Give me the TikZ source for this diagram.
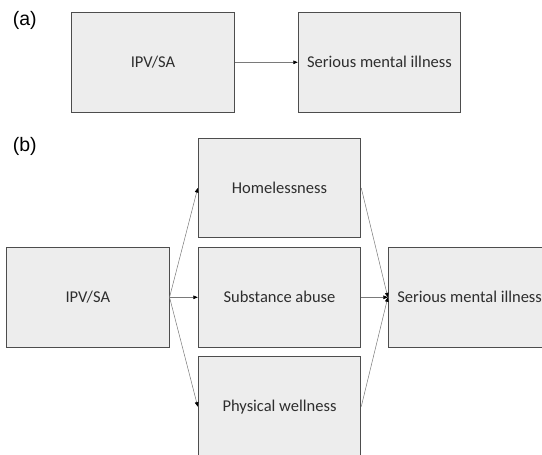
\documentclass[tikz,border=0pt]{standalone}
\usepackage{fontspec}
\setmainfont{Carlito}
\newfontfamily\panelfont{Liberation Sans}
\usepackage{tikz}
\usetikzlibrary{arrows.meta}
\definecolor{boxfill}{HTML}{EDEDED}
\definecolor{boxline}{HTML}{4D4D4D}
\definecolor{boxtext}{HTML}{2E2E2E}
\definecolor{linkgray}{HTML}{7A7A7A}
\begin{document}
\begin{tikzpicture}[x=1pt,y=-1pt,
  box/.style={draw=boxline, fill=boxfill, line width=0.9pt, text=boxtext,
    minimum width=162.6pt, minimum height=99.4pt, inner sep=0pt,
    font=\fontsize{16.5}{19}\selectfont},
  link/.style={draw=linkgray, line width=0.5pt,
    -{Triangle[length=4.5pt,width=3.6pt,color=black]}},
  panel/.style={font=\panelfont\fontsize{19.5}{22}\selectfont, text=black}]
\useasboundingbox (0,0) rectangle (542,455);

% (a) direct path
\node[panel] (labelA) at (24.7,20) {(a)};
\node[box] (ipvA) at (153,62.3) {IPV/SA};
\node[box] (smiA) at (379.5,62.3) {Serious mental illness};
\draw[link] (ipvA.east) -- (smiA.west);

% (b) through the three mediators
\node[panel] (labelB) at (24.7,146) {(b)};
\node[box] (ipvB) at (87.8,297.3) {IPV/SA};
\node[box] (home) at (279.5,188) {Homelessness};
\node[box] (subst) at (279.5,297.3) {Substance abuse};
\node[box] (phys) at (279.5,406.6) {Physical wellness};
\node[box] (smiB) at (469.6,297.3) {Serious mental illness};

\draw[link] (ipvB.east) -- (home.west);
\draw[link] (ipvB.east) -- (subst.west);
\draw[link] (ipvB.east) -- (phys.west);
\draw[link] (home.east) -- (smiB.west);
\draw[link] (subst.east) -- (smiB.west);
\draw[link] (phys.east) -- (smiB.west);
\end{tikzpicture}
\end{document}
